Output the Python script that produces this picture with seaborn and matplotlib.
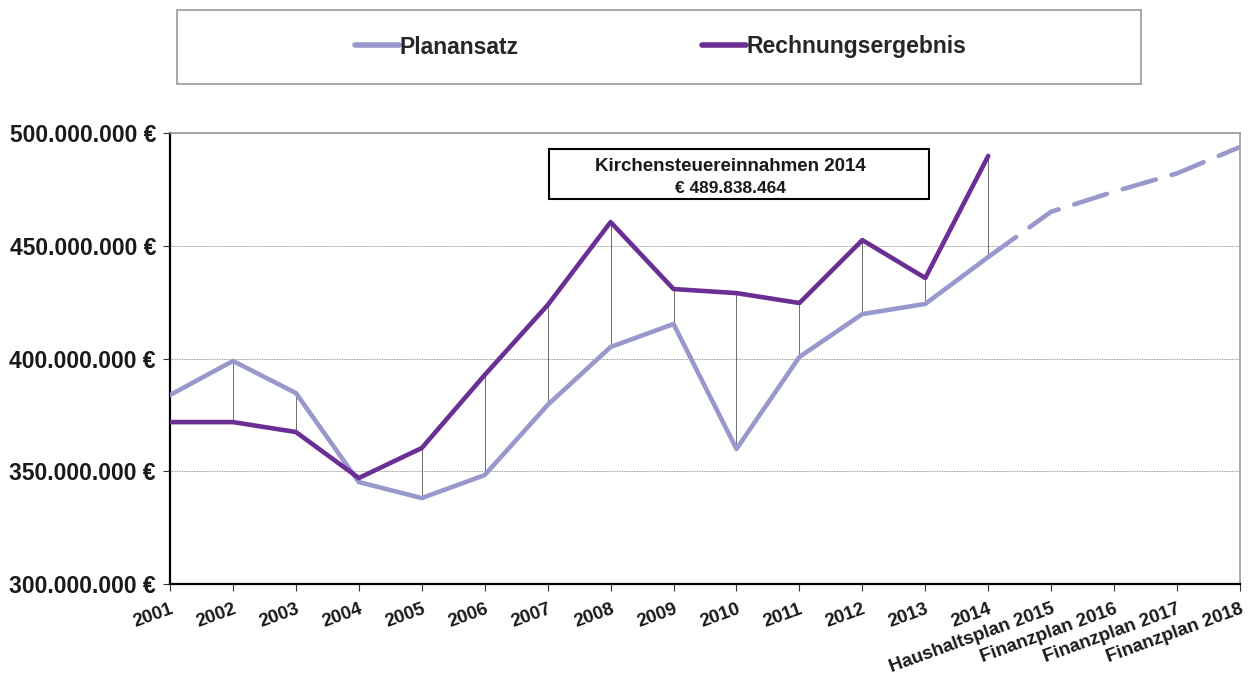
import matplotlib
matplotlib.use("Agg")
import matplotlib.pyplot as plt
import matplotlib.ticker as mticker
from matplotlib.patches import Rectangle
import numpy as np
import pandas as pd
import seaborn as sns

# Data (values in Mio. Euro)
labels = ["2001", "2002", "2003", "2004", "2005", "2006", "2007", "2008", "2009",
          "2010", "2011", "2012", "2013", "2014", "Haushaltsplan 2015",
          "Finanzplan 2016", "Finanzplan 2017", "Finanzplan 2018"]
planansatz = [383.8, 398.9, 384.7, 345.2, 338.1, 348.3, 379.4, 405.1, 415.3,
              359.9, 400.7, 419.7, 424.2, 445.0, 465.1, 474.0, 482.1, 493.8]
rechnung = [371.8, 371.8, 367.4, 347.0, 360.3, 392.7, 423.7, 460.5, 430.8,
            429.0, 424.6, 452.5, 435.7, 489.838464]

PLAN_COL = "#9898CC"
RECH_COL = "#6A2E94"
n_actual = len(rechnung)

sns.set_theme(style="white")
plt.rcParams["font.family"] = ["Liberation Sans", "DejaVu Sans"]

x_all = np.arange(len(labels))
plan_eur = np.array(planansatz) * 1e6
rech_eur = np.array(rechnung) * 1e6

df_plan = pd.DataFrame({"x": x_all[:n_actual], "y": plan_eur[:n_actual]})
df_plan_fc = pd.DataFrame({"x": x_all[n_actual - 1:], "y": plan_eur[n_actual - 1:]})
df_rech = pd.DataFrame({"x": x_all[:n_actual], "y": rech_eur})

fig = plt.figure(figsize=(12.5, 6.84), dpi=100)
ax = fig.add_axes([170 / 1250, 1 - 584 / 684, 1070 / 1250, 451 / 684])

# high-low lines between the two series
ax.vlines(x_all[:n_actual], plan_eur[:n_actual], rech_eur, color="#555555", lw=0.6, zorder=1)

sns.lineplot(data=df_plan, x="x", y="y", ax=ax, color=PLAN_COL, lw=3.3,
             solid_capstyle="round", zorder=3, label="Planansatz")
ax.plot(df_plan_fc["x"], df_plan_fc["y"], color=PLAN_COL, lw=3.3,
        dashes=(7.5, 3.6), dash_capstyle="round", zorder=3)
sns.lineplot(data=df_rech, x="x", y="y", ax=ax, color=RECH_COL, lw=3.3,
             solid_capstyle="round", zorder=4, label="Rechnungsergebnis")

ax.set_xlim(0, len(labels) - 1)
ax.set_ylim(300e6, 500e6)
ax.set_yticks([300e6, 350e6, 400e6, 450e6, 500e6])
ax.yaxis.set_major_formatter(mticker.FuncFormatter(
    lambda v, p: f"{int(round(v)):,}".replace(",", ".") + " €"))
ax.set_xticks(x_all)
ax.set_xticklabels(labels, rotation=20, ha="right", rotation_mode="anchor",
                   fontsize=13.5, fontweight="bold")
for t in ax.get_yticklabels():
    t.set_fontsize(16.5)
    t.set_fontweight("bold")
ax.set_xlabel("")
ax.set_ylabel("")

ax.grid(axis="y", color="#777777", lw=0.6, ls=(0, (1, 1)))
ax.tick_params(axis="both", direction="out", length=5, width=0.8, color="#333333",
               bottom=True, left=True, labelcolor="#1a1a1a")
ax.tick_params(axis="x", pad=7)
ax.tick_params(axis="y", pad=5)
for side in ["left", "bottom"]:
    ax.spines[side].set_color("black")
    ax.spines[side].set_linewidth(1.6)
for side in ["top", "right"]:
    ax.spines[side].set_color("#999999")
    ax.spines[side].set_linewidth(1.2)

ax.legend_.remove()

# annotation box
ax.text(0.5235, 0.926, "Kirchensteuereinnahmen 2014", transform=ax.transAxes,
        ha="center", va="center", fontsize=13.5, fontweight="bold", color="#1a1a1a",
        zorder=6)
ax.text(0.5235, 0.877, "€ 489.838.464", transform=ax.transAxes,
        ha="center", va="center", fontsize=12.5, fontweight="bold", color="#1a1a1a",
        zorder=6)
ax.add_patch(Rectangle((379 / 1070, (584 - 199) / 451), 380 / 1070, 50 / 451,
                       transform=ax.transAxes, fill=True, facecolor="white",
                       edgecolor="black", lw=1.5, zorder=5))

# legend box at the top
fig.patches.append(Rectangle((177 / 1250, 1 - 84 / 684), 964 / 1250, 74 / 684,
                             transform=fig.transFigure, fill=False,
                             edgecolor="#999999", lw=1.2))
handles = [plt.Line2D([], [], color=PLAN_COL, lw=4, solid_capstyle="round"),
           plt.Line2D([], [], color=RECH_COL, lw=4, solid_capstyle="round")]
fig.legend(handles, ["Planansatz", "Rechnungsergebnis"], loc="center",
           bbox_to_anchor=(661 / 1250, 1 - 47 / 684), ncol=2, frameon=False,
           handlelength=1.9, handletextpad=0.05, columnspacing=8.0,
           prop={"size": 16.5, "weight": "bold"})

fig.savefig("out.png", dpi=100)
